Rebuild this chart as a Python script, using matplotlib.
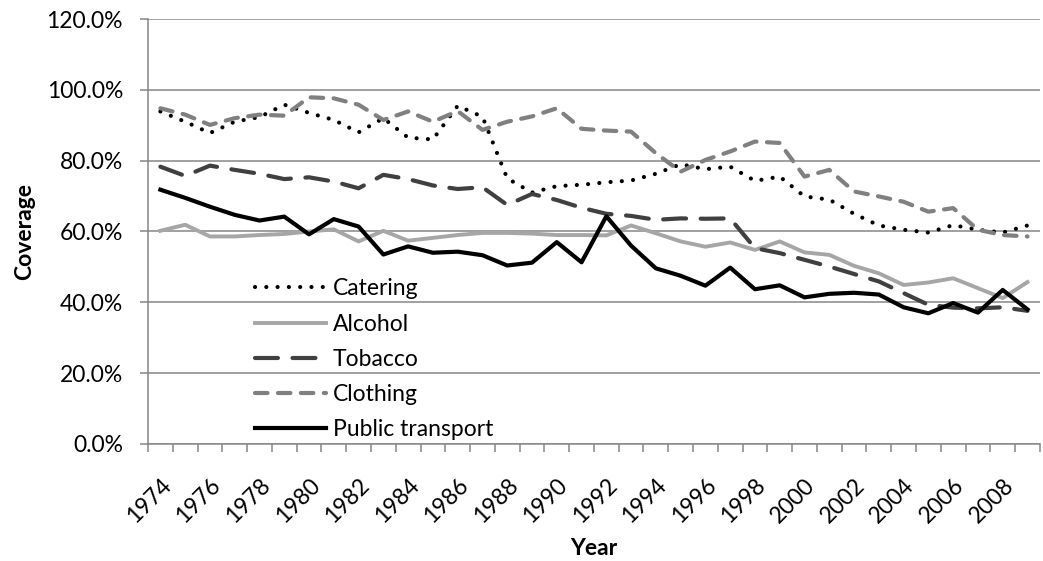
import matplotlib
matplotlib.use("Agg")
import matplotlib.pyplot as plt
import numpy as np
from matplotlib.ticker import PercentFormatter, MultipleLocator

plt.rcParams['font.family'] = ['Lato', 'DejaVu Sans']

years = list(range(1974, 2010))

catering = [93.9, 91.0, 87.8, 91.0, 92.3, 95.8, 93.5, 91.5, 88.0, 92.0,
            86.5, 86.0, 95.5, 92.4, 75.0, 71.0, 72.8, 73.2, 73.9, 74.4,
            76.3, 79.0, 77.6, 78.3, 74.3, 75.5, 69.9, 69.0, 65.0, 61.7,
            60.5, 59.7, 61.8, 60.5, 59.7, 61.7]
alcohol = [60.2, 61.9, 58.6, 58.6, 59.0, 59.3, 60.0, 60.6, 57.2, 60.2,
           57.4, 58.2, 59.0, 59.6, 59.6, 59.4, 59.0, 59.0, 58.9, 61.7,
           59.5, 57.2, 55.7, 56.9, 54.8, 57.2, 54.1, 53.4, 50.3, 48.2,
           44.9, 45.6, 46.8, 44.0, 41.2, 45.7]
tobacco = [78.3, 75.7, 78.6, 77.4, 76.3, 74.8, 75.3, 74.1, 72.2, 76.0,
           74.8, 73.0, 72.0, 72.5, 67.5, 70.6, 68.9, 66.7, 65.0, 64.4,
           63.3, 63.7, 63.6, 63.7, 55.3, 53.9, 52.0, 50.1, 48.0, 45.9,
           42.6, 39.3, 38.5, 38.3, 38.6, 37.6]
clothing = [94.8, 93.0, 90.1, 92.0, 93.0, 92.7, 97.9, 97.6, 95.8, 91.5,
            93.9, 91.0, 94.0, 88.7, 91.0, 92.5, 94.8, 89.0, 88.5, 88.2,
            82.1, 76.9, 80.2, 82.6, 85.4, 85.0, 75.5, 77.4, 71.3, 69.9,
            68.4, 65.6, 66.6, 60.5, 59.0, 58.6]
public_transport = [71.8, 69.5, 67.0, 64.7, 63.1, 64.2, 59.2, 63.5, 61.4, 53.5,
                    55.8, 54.0, 54.3, 53.3, 50.4, 51.2, 57.0, 51.3, 64.3, 56.0,
                    49.6, 47.5, 44.7, 49.8, 43.7, 44.8, 41.4, 42.4, 42.7, 42.2,
                    38.6, 36.9, 39.8, 37.1, 43.5, 38.0]

fig = plt.figure(figsize=(10.43, 5.61), dpi=100)
ax = fig.add_axes([0.1419, 0.2086, 0.8551, 0.7575])

x = np.arange(len(years))
grid_col = '#868686'
fs = 16.5

ax.plot(x, catering, color='black', lw=3.0, linestyle=(0, (0.01, 2.7)),
        dash_capstyle='round', label='Catering', zorder=3)
ax.plot(x, alcohol, color='#A6A6A6', lw=2.8, label='Alcohol', zorder=3,
        solid_joinstyle='round')
ax.plot(x, tobacco, color='#404040', lw=3.0, linestyle=(0, (5.5, 3.5)),
        dash_capstyle='round', label='Tobacco', zorder=3)
ax.plot(x, clothing, color='#808080', lw=3.0, linestyle=(0, (3.0, 2.5)),
        dash_capstyle='round', label='Clothing', zorder=3)
ax.plot(x, public_transport, color='black', lw=3.0, label='Public transport',
        zorder=4, solid_joinstyle='round')

ax.set_xlim(-0.5, len(years) - 0.5)
ax.set_ylim(0, 120)
ax.yaxis.set_major_locator(MultipleLocator(20))
ax.yaxis.set_major_formatter(PercentFormatter(100, decimals=1))
ax.grid(axis='y', color=grid_col, lw=1.1)
ax.set_axisbelow(True)

ax.set_xticks(x[::2])
ax.set_xticklabels([str(y) for y in years[::2]], rotation=45, ha='right',
                   va='top', rotation_mode='anchor')
ax.set_xticks(np.arange(-0.5, len(years)), minor=True)
ax.tick_params(axis='x', which='major', length=0, pad=22, labelsize=fs)
ax.tick_params(axis='x', which='minor', length=6, width=1.1, color=grid_col)
ax.tick_params(axis='y', length=6, width=1.1, color=grid_col, labelsize=fs,
               pad=12)

for s in ['top', 'right']:
    ax.spines[s].set_visible(False)
for s in ['left', 'bottom']:
    ax.spines[s].set_color(grid_col)
    ax.spines[s].set_linewidth(1.1)

ax.set_ylabel('Coverage', fontsize=fs, fontweight='bold', labelpad=8)
ax.set_xlabel('Year', fontsize=fs, fontweight='bold', labelpad=8)

ax.legend(loc='lower left', bbox_to_anchor=(0.107, -0.018), frameon=False,
          fontsize=fs, handlelength=3.1, labelspacing=0.62, borderpad=0,
          handletextpad=0.3)

fig.savefig('out.png', dpi=100)
